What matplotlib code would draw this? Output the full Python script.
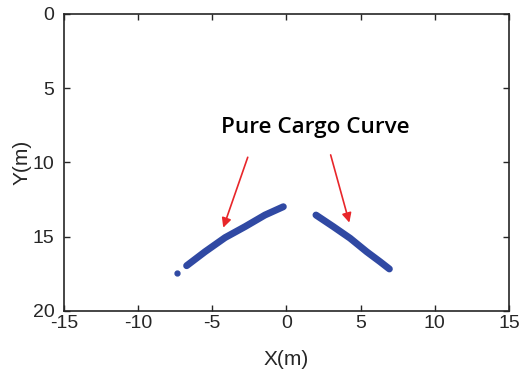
import matplotlib.pyplot as plt

plt.rcParams['axes.unicode_minus'] = False
plt.rcParams['font.family'] = ['Liberation Sans', 'DejaVu Sans']

# points (X, Y in metres)
left_x = [-6.73, -5.49, -4.14, -2.79, -1.45, -0.21]
left_y = [16.95, 16.01, 15.06, 14.32, 13.54, 12.98]
right_x = [1.99, 3.16, 4.29, 5.41, 6.31, 6.94]
right_y = [13.54, 14.32, 15.10, 16.01, 16.68, 17.17]
stray_x = [-7.40]
stray_y = [17.46]

label_text = 'Pure Cargo Curve'
label_pos = (1.96, 7.65)
arrow_tails = [(-2.61, 9.65), (2.98, 9.49)]
arrow_tips = [(-4.26, 14.39), (4.24, 14.05)]

blue = '#3049a3'
axcol = '#262626'

fig = plt.figure(figsize=(5.21, 3.69), dpi=100)
ax = fig.add_axes([0.1228, 0.1572, 0.854, 0.805])

ax.plot(left_x, left_y, color=blue, lw=5, solid_capstyle='round')
ax.plot(right_x, right_y, color=blue, lw=5, solid_capstyle='round')
ax.plot(stray_x, stray_y, 'o', color=blue, ms=3.5)

for tail, tip in zip(arrow_tails, arrow_tips):
    ax.annotate('', xy=tip, xytext=tail,
                arrowprops=dict(arrowstyle='-|>', color='#e8262a', lw=1.2,
                                mutation_scale=14, shrinkA=0, shrinkB=0))

ax.text(label_pos[0], label_pos[1], label_text, ha='center', va='center',
        fontsize=16.2, family='Open Sans', weight='semibold', color='black')

ax.set_xlim(-15, 15)
ax.set_ylim(20, 0)
ax.set_xticks([-15, -10, -5, 0, 5, 10, 15])
ax.set_yticks([0, 5, 10, 15, 20])
ax.tick_params(direction='in', top=True, right=True, length=4, width=1,
               colors=axcol, labelsize=14, labelcolor=axcol)
ax.tick_params(axis='x', pad=3)
ax.tick_params(axis='y', pad=7)
for s in ax.spines.values():
    s.set_color(axcol)
    s.set_linewidth(1.2)
ax.set_xlabel('X(m)', fontsize=15, color=axcol, labelpad=13)
ax.set_ylabel('Y(m)', fontsize=15, color=axcol, labelpad=0.5)

fig.savefig('out.png', dpi=100)
